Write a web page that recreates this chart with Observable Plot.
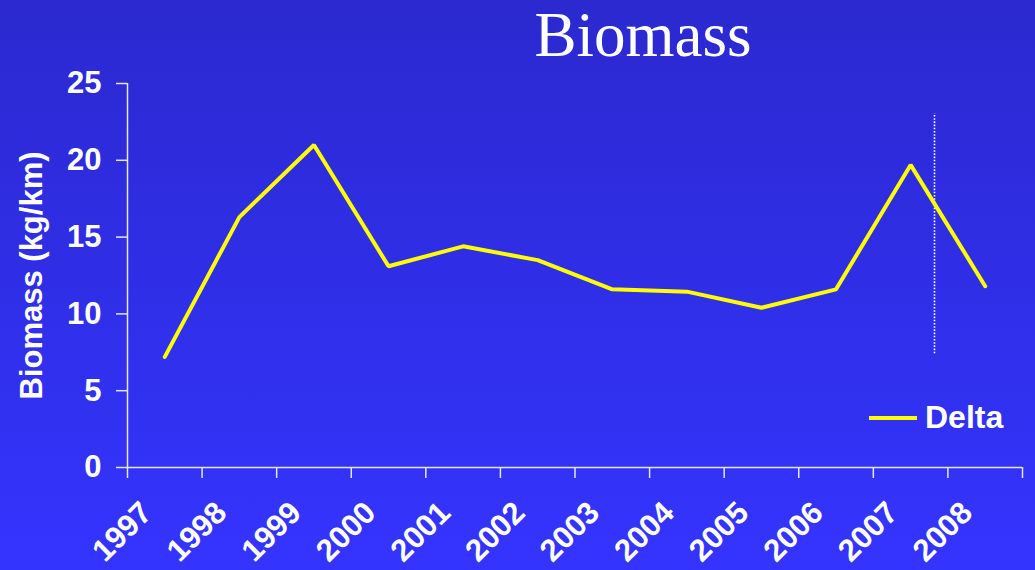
<!DOCTYPE html>
<html>
<head>
<meta charset="utf-8">
<script src="https://cdn.jsdelivr.net/npm/d3@7"></script>
<script src="https://cdn.jsdelivr.net/npm/@observablehq/plot@0.6"></script>
<style>
  html, body { margin: 0; padding: 0; }
  body {
    width: 1035px; height: 570px; overflow: hidden; position: relative;
    background: linear-gradient(to bottom, #2b29cf 0%, #3434ff 100%);
    font-family: "Liberation Sans", Arial, sans-serif;
  }
  #title {
    position: absolute; left: 0; width: 1035px; top: 0; text-align: center;
    padding-left: 251px; box-sizing: border-box;
    font-family: "Liberation Serif", "Times New Roman", serif;
    font-size: 63px; color: #fff; line-height: 70px;
  }
  #legend {
    position: absolute; left: 869px; top: 399px; display: flex; align-items: center;
    color: #fff; font-weight: bold; font-size: 32px;
  }
  #legend .sw { display: inline-block; width: 48px; height: 4px; background: #ffff00; margin-right: 8px; }
  #chart { position: absolute; left: 0; top: 0; }
</style>
</head>
<body>
<div id="chart"></div>
<div id="title">Biomass</div>
<div id="legend"><span class="sw"></span><span>Delta</span></div>
<script>
const years = [1997, 1998, 1999, 2000, 2001, 2002, 2003, 2004, 2005, 2006, 2007, 2008];
const delta = [7.2, 16.3, 21.0, 13.1, 14.4, 13.5, 11.6, 11.45, 10.4, 11.6, 19.7, 11.8];
const yTicks = [0, 5, 10, 15, 20, 25];
const seriesName = "Delta";
const yLabel = "Biomass (kg/km)";
const markerLine = [{x: 2007.32, y1: 7.4, y2: 23.05}];

const data = years.map((yr, i) => ({year: yr, value: delta[i], series: seriesName}));
const bounds = [...years.map(y => y - 0.5), years[years.length - 1] + 0.5];

const axisColor = "#e6e6f5";
const plot = Plot.plot({
  width: 1035,
  height: 570,
  marginTop: 83,
  marginBottom: 103,
  marginLeft: 127,
  marginRight: 13,
  style: {background: "transparent", color: "#fff", fontFamily: "'Liberation Sans', Arial, sans-serif"},
  x: {domain: [bounds[0], bounds[bounds.length - 1]]},
  y: {domain: [0, 25]},
  marks: [
    Plot.axisY({ticks: yTicks, tickSize: 11, tickPadding: 15, label: null, stroke: axisColor, strokeWidth: 1.5,
      fontSize: 31, fontWeight: "bold", fill: "#fff"}),
    Plot.axisX({ticks: bounds, tickSize: 11, tickFormat: () => "", label: null, stroke: axisColor, strokeWidth: 1.5}),
    Plot.axisX({ticks: years, tickSize: 0, tickPadding: 40, tickRotate: -45, tickFormat: d => String(d), label: null,
      fontSize: 31, fontWeight: "bold", fill: "#fff", dx: -18}),
    Plot.ruleX([bounds[0]], {stroke: axisColor, strokeWidth: 1.5}),
    Plot.ruleY([0], {stroke: axisColor, strokeWidth: 1.5}),
    Plot.text([yLabel], {frameAnchor: "left", textAnchor: "middle", rotate: -90, dx: -95, fontSize: 31, fontWeight: "bold", fill: "#fff"}),
    Plot.ruleX(markerLine, {x: "x", y1: "y1", y2: "y2", stroke: "#fff", strokeWidth: 1.6, strokeDasharray: "1.6,1.6"}),
    Plot.line(data, {x: "year", y: "value", stroke: "#ffff00", strokeWidth: 4, strokeLinejoin: "miter", curve: "linear"})
  ]
});
document.getElementById("chart").appendChild(plot);
</script>
</body>
</html>
